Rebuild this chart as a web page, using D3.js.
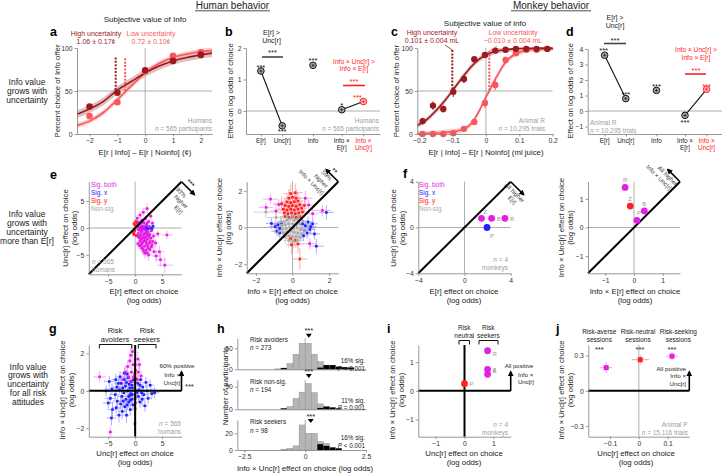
<!DOCTYPE html>
<html>
<head>
<meta charset="utf-8">
<script src="https://d3js.org/d3.v7.min.js"></script>
<style>
  body { margin: 0; background: #fff; }
  svg text { font-family: "Liberation Sans", Arial, sans-serif; }
</style>
</head>
<body>
<div id="fig"></div>
<script>
// ---------------- data ----------------

// a: humans, % choice of Info offer vs E[r|Info] - E[r|Noinfo] (cents)
var aX = [-2, -1, 0, 1, 2];
var aHigh = [32, 48, 74, 85, 92];
var aLow = [21, 37, 73, 91, 95];
var aFitX = [-2.45, -2, -1.5, -1, -0.5, 0, 0.5, 1, 1.5, 2, 2.4];
var aFitHigh = [23, 29, 38, 51, 61, 71, 79, 85, 89, 92, 94];
var aFitLow = [10, 15, 25, 40, 56, 71, 82, 89, 93, 96, 97];
var aIndiff = [-1.06, -0.72];

// b: humans, effect on log odds of choice
var bNames = ["E[r]", "Unc[r]", "Info", "Info ×|E[r]", "Info ×|Unc[r]"];
var bVals = [1.27, -0.47, 1.45, 0.04, 0.3];
var bStars = ["***", "***", "***", "*", "***"];

// c: monkey R, % choice of info vs juice difference (ml)
var cX = [-0.19, -0.159, -0.128, -0.098, -0.066, -0.035, -0.003, 0.028, 0.059, 0.09, 0.121, 0.152, 0.184];
var cHigh = [15, 33, 29, 49, 64, 87, 92, 97, 98, 99, 99, 99, 99];
var cHighErr = [4, 5, 4, 6, 5, 3, 3, 2, 1, 1, 1, 1, 1];
var cLow = [0, 0, 0, 1, 6, 14, 36, 57, 86, 94, 98, 98, 99];
var cLowErr = [0, 0, 0, 1, 2, 2, 6, 6, 4, 2, 1, 1, 1];
var cFitX = [-0.206, -0.18, -0.15, -0.125, -0.101, -0.08, -0.06, -0.04, -0.02, 0, 0.01, 0.02, 0.04, 0.06, 0.08, 0.1, 0.13, 0.16, 0.2];
var cFitHigh = [10, 16, 27, 38, 50, 61, 71, 80, 87, 92, 93.5, 95, 97, 98, 99, 99.4, 99.7, 99.9, 100];
var cFitLow = [0.3, 0.6, 1, 1.8, 2.8, 4, 7, 14, 27, 43, 50, 58, 72, 84, 91, 95, 98, 99, 99.7];
var cIndiff = [-0.101, 0.01];

// d: monkey R, effect on log odds of choice
var dVals = [3.6, 0.8, 1.33, -0.28, 1.4];
var dStars = ["***", "***", "***", "***", "***"];

// e (left): humans, [E[r] effect, Unc[r] effect, xerr, yerr]
var eBoth = [
  [0.4,1.8,0.2,0.6],[0.9,2.4,0.3,0.7],[1.5,2.9,0.4,0.8],[2.2,3.6,0.5,0.9],[2.9,2.2,0.5,0.7],
  [0.6,1.1,0.2,0.4],[1.2,1.4,0.3,0.5],[1.9,1.7,0.3,0.5],[2.5,1.2,0.4,0.5],[3.2,0.9,0.5,0.5],
  [0.5,0.5,0.2,0.3],[1.0,0.7,0.2,0.3],[1.6,0.9,0.3,0.4],[2.1,0.6,0.3,0.4],[0.8,-0.4,0.2,0.3],
  [1.3,-0.6,0.2,0.4],[1.8,-0.3,0.3,0.4],[2.4,-0.7,0.3,0.4],[3.0,-0.5,0.4,0.5],[0.6,-1.0,0.2,0.4],
  [1.1,-1.3,0.3,0.4],[1.6,-1.1,0.3,0.4],[2.1,-1.4,0.3,0.5],[2.7,-1.2,0.4,0.5],[3.4,-1.5,0.5,0.6],
  [0.7,-1.8,0.2,0.5],[1.2,-2.0,0.3,0.5],[1.7,-1.8,0.3,0.5],[2.3,-2.1,0.4,0.6],[2.9,-1.9,0.4,0.6],
  [0.9,-2.5,0.3,0.6],[1.4,-2.7,0.3,0.6],[2.0,-2.6,0.4,0.6],[2.6,-2.8,0.4,0.7],[3.3,-2.5,0.5,0.7],
  [1.1,-3.2,0.3,0.7],[1.7,-3.4,0.4,0.7],[2.3,-3.3,0.4,0.8],[3.0,-3.5,0.5,0.8],[1.4,-3.9,0.4,0.8],
  [2.0,-4.1,0.5,0.9],[2.7,-4.0,0.5,0.9],[3.5,-4.4,0.7,1.0],[1.8,-4.7,0.5,1.0],[2.5,-5.0,0.6,1.1],
  [3.9,-5.2,0.8,1.2],[4.5,-4.4,0.9,1.1],[4.7,-5.9,1.0,1.3],[5.5,-6.9,1.5,1.5],[5.9,-1.3,1.0,0.8],
  [4.2,-1.1,0.6,0.6],[3.8,-2.8,0.6,0.8],[0.5,-2.9,0.2,0.5],[1.0,-0.1,0.2,0.3],[2.6,0.2,0.3,0.4],
  [1.5,-1.6,0.3,0.4],[2.2,-0.9,0.3,0.4],[1.9,-2.3,0.3,0.5],[2.4,-3.7,0.5,0.8],[1.3,0.3,0.2,0.3],
  [0.7,0.2,0.2,0.3],[1.1,-0.8,0.2,0.4],[1.4,-0.3,0.2,0.3],[1.7,0.3,0.3,0.4],[2.0,-0.6,0.3,0.4],
  [0.9,-1.5,0.2,0.4],[1.3,-1.9,0.3,0.5],[1.6,-2.4,0.3,0.5],[2.0,-1.7,0.3,0.5],[2.4,-1.3,0.3,0.5],
  [0.8,-3.3,0.3,0.6],[1.2,-3.7,0.3,0.7],[1.6,-4.3,0.4,0.8],[2.1,-3.0,0.4,0.7],[2.8,-2.5,0.4,0.6],
  [1.0,-2.2,0.3,0.5],[0.6,-0.3,0.2,0.3],[1.9,-1.0,0.3,0.4],[1.2,-2.9,0.3,0.6],[2.2,-4.6,0.5,0.9],
  [3.1,-3.1,0.5,0.8],[2.6,-1.6,0.4,0.5],[0.5,-1.5,0.2,0.4],[1.5,1.1,0.3,0.4],[2.2,0.9,0.3,0.4]
];
var eX = [[0.9,0.1,0.2,0.3],[1.3,-0.1,0.2,0.3],[1.7,0.0,0.3,0.3],[2.1,0.1,0.3,0.3],[2.4,-0.1,0.3,0.4],
  [2.8,0.0,0.3,0.4],[3.1,-0.2,0.4,0.4],[1.5,0.2,0.2,0.3],[2.6,0.2,0.3,0.4],[1.1,-0.2,0.2,0.3],
  [3.3,0.3,0.4,0.4],[2.0,-0.3,0.3,0.3]];
var eY = [[-0.2,0.8,0.3,0.4],[0.1,1.2,0.3,0.4],[-0.3,-0.9,0.3,0.4],[0.2,-1.4,0.3,0.5],
  [0.0,0.5,0.2,0.3],[-0.1,-0.5,0.2,0.3],[0.3,1.0,0.3,0.4],[-0.25,-1.2,0.3,0.4]];
var eNs = [[0.1,0.1,0.3,0.3],[-0.1,-0.2,0.3,0.3],[0.2,-0.1,0.3,0.4]];

// e (right): humans, [Info x E[r] effect, Info x Unc[r] effect, xerr, yerr]
var e2Ns = [[-0.5,0.3,0.3,0.3],[-0.3,0.4,0.2,0.3],[-0.1,0.5,0.2,0.3],[0.1,0.4,0.2,0.3],[0.3,0.45,0.3,0.3],
  [-0.6,0.1,0.3,0.3],[-0.4,0.15,0.2,0.3],[-0.2,0.2,0.2,0.2],[0.0,0.2,0.2,0.2],[0.2,0.15,0.2,0.3],[0.4,0.2,0.3,0.3],
  [-0.55,-0.1,0.3,0.3],[-0.35,-0.05,0.2,0.3],[-0.15,0.0,0.2,0.2],[0.05,-0.05,0.2,0.2],[0.25,0.0,0.2,0.3],[0.45,-0.1,0.3,0.3],
  [-0.5,-0.3,0.3,0.3],[-0.3,-0.25,0.2,0.3],[-0.1,-0.2,0.2,0.3],[0.1,-0.25,0.2,0.3],[0.3,-0.3,0.3,0.3],[0.5,-0.35,0.3,0.3],
  [-0.4,-0.5,0.3,0.4],[-0.2,-0.45,0.2,0.3],[0.0,-0.5,0.2,0.3],[0.2,-0.5,0.3,0.4],[0.4,-0.55,0.3,0.4],
  [-0.2,-0.7,0.3,0.4],[0.05,-0.75,0.3,0.4],[0.25,-0.7,0.3,0.4],[-0.65,0.3,0.3,0.3],[0.55,0.35,0.3,0.3],
  [-0.75,-0.2,0.4,0.3],[0.65,-0.15,0.3,0.3],[-0.9,0.55,0.5,0.4],[-1.45,0.84,0.7,0.3],[0.0,0.65,0.3,0.3],
  [-0.3,0.6,0.3,0.3],[0.35,0.65,0.3,0.3]];
var e2Y = [[-0.4,0.6,0.3,0.3],[-0.2,0.55,0.2,0.3],[0.0,0.6,0.2,0.3],[0.2,0.55,0.2,0.3],[0.4,0.6,0.3,0.3],
  [-0.45,0.8,0.3,0.3],[-0.25,0.75,0.2,0.3],[-0.05,0.8,0.2,0.3],[0.15,0.75,0.2,0.3],[0.35,0.8,0.3,0.3],[0.55,0.85,0.3,0.4],
  [-0.5,1.0,0.3,0.4],[-0.3,0.95,0.3,0.3],[-0.1,1.0,0.2,0.3],[0.1,0.95,0.2,0.3],[0.3,1.0,0.3,0.4],[0.5,1.05,0.3,0.4],
  [-0.4,1.2,0.3,0.4],[-0.2,1.15,0.3,0.4],[0.0,1.2,0.3,0.4],[0.2,1.15,0.3,0.4],[0.4,1.25,0.3,0.4],
  [-0.3,1.4,0.3,0.4],[-0.1,1.35,0.3,0.4],[0.1,1.4,0.3,0.4],[0.3,1.45,0.3,0.5],
  [-0.2,1.6,0.3,0.5],[0.0,1.65,0.3,0.5],[0.2,1.6,0.3,0.5],[-0.1,1.85,0.4,0.5],[0.15,1.9,0.4,0.5],
  [-0.6,1.3,0.4,0.4],[0.65,1.2,0.4,0.4],
  [-0.1,-0.6,0.3,0.4],[0.15,-0.7,0.3,0.4],[0.3,-0.9,0.3,0.5],[-0.05,-0.95,0.3,0.5],[0.4,-1.72,0.4,0.6]];
var e2X = [[-1.15,0.22,0.3,0.3],[-0.95,0.05,0.3,0.3],[-0.8,0.15,0.3,0.2],[-0.7,-0.05,0.2,0.3],[-0.85,-0.2,0.3,0.3],
  [-0.6,0.25,0.2,0.3],[-0.7,-0.3,0.3,0.3],[0.55,0.2,0.3,0.3],[0.7,0.1,0.3,0.3],[0.85,0.3,0.3,0.3],[1.0,0.05,0.3,0.3],
  [0.65,-0.15,0.3,0.3],[0.8,-0.3,0.3,0.3],[0.95,-0.1,0.3,0.3],[1.1,0.2,0.3,0.3],[0.6,-0.45,0.3,0.3],[1.2,-0.35,0.3,0.3],
  [1.85,0.82,0.4,0.4],[1.3,-1.02,0.4,0.4]];
var e2Both = [[-1.44,1.1,0.4,0.3],[-1.2,1.55,0.4,0.3],[-0.9,0.9,0.3,0.3],[0.88,1.23,0.4,0.3],[1.63,0.93,0.5,0.3],
  [0.94,-0.88,0.4,0.3],[1.1,0.75,0.3,0.3],[-0.75,1.25,0.3,0.3],[0.7,1.6,0.4,0.4]];

// f, f (right), i: monkeys Z, B, R, P
var mNames = ["Z", "B", "R", "P"];
var mEr = [1.47, 2.35, 3.5, 1.95];
var mUnc = [0.8, 0.8, 0.8, 0.0];
var mInfoEr = [-0.13, 0.36, -0.31, 0.1];
var mInfoUnc = [0.75, 0.58, 1.4, 0.25];
var fSig = ["both", "both", "both", "x"];
var f2Sig = ["y", "both", "both", "both"];
var iSig = ["both", "both", "both", "y"];

// g: humans, [Unc[r] effect, Info x Unc[r] effect, xerr, yerr]
var gX = [[-4.8,0.5,1.0,0.3],[-4.3,0.1,0.9,0.3],[-4.6,-0.4,1.0,0.3],[-5.0,-0.65,1.0,0.3],[-4.2,-1.0,0.9,0.4],[-4.4,-1.45,0.9,0.4],
  [-3.6,0.6,0.8,0.3],[-3.4,0.2,0.8,0.3],[-3.7,-0.2,0.8,0.3],[-3.3,-0.55,0.8,0.3],[-3.5,-0.9,0.8,0.3],
  [-2.8,0.75,0.7,0.3],[-2.6,0.4,0.7,0.3],[-2.9,0.05,0.7,0.2],[-2.5,-0.3,0.7,0.3],[-2.7,-0.7,0.7,0.3],[-2.4,-1.1,0.7,0.4],
  [-2.0,0.6,0.6,0.3],[-1.8,0.25,0.6,0.2],[-2.1,-0.1,0.6,0.2],[-1.7,-0.45,0.6,0.3],[-1.9,-0.85,0.6,0.3],[-1.6,-1.3,0.6,0.4],
  [-1.3,0.7,0.5,0.3],[-1.1,0.35,0.5,0.2],[-1.4,0.0,0.5,0.2],[-1.0,-0.25,0.5,0.2],[-1.2,-0.6,0.5,0.3],[-0.9,-1.0,0.5,0.3],
  [-0.7,0.5,0.4,0.2],[-0.5,0.15,0.4,0.2],[-0.8,-0.15,0.4,0.2],[-0.6,-0.45,0.4,0.3],[-0.4,-0.75,0.4,0.3],
  [0.5,0.4,0.4,0.2],[0.7,0.05,0.4,0.2],[0.6,-0.3,0.4,0.3],[0.9,-0.6,0.5,0.3],[1.0,0.6,0.5,0.3],
  [1.4,0.2,0.5,0.2],[1.6,-0.2,0.6,0.3],[1.3,-0.45,0.5,0.3],[2.0,0.45,0.6,0.3],[2.2,0.0,0.7,0.3],[2.4,-0.4,0.7,0.3],
  [2.8,0.3,0.8,0.3],[3.1,-0.15,0.8,0.3],[3.6,-0.1,0.9,0.3],[1.8,-0.8,0.6,0.3],[-3.0,-1.3,0.7,0.4],[-5.4,0.0,1.1,0.3],[-1.5,0.9,0.5,0.3],
  [-1.6,0.45,0.5,0.2],[-2.3,0.15,0.6,0.2],[-1.2,-0.3,0.5,0.2],[-0.6,0.3,0.4,0.2],[-0.9,-0.5,0.4,0.3],
  [-2.2,-0.55,0.6,0.3],[-1.5,-0.75,0.5,0.3],[-0.5,-0.2,0.4,0.2],[0.3,-0.1,0.3,0.2],[0.9,0.3,0.4,0.2],
  [-3.1,0.4,0.8,0.3],[-2.0,0.95,0.6,0.3],[-0.3,0.6,0.3,0.2],[1.2,-0.1,0.5,0.2],[-1.0,0.15,0.5,0.2]];
var gBoth = [[-6.6,0.75,1.2,0.3],[-1.8,1.0,0.5,0.3],[-1.4,1.3,0.5,0.3],[-1.0,1.6,0.5,0.4],[-0.8,1.9,0.4,0.4],[-0.5,2.1,0.4,0.4],
  [-1.2,0.75,0.4,0.3],[-0.7,1.0,0.4,0.3],[-0.4,1.4,0.4,0.3],[-0.9,0.5,0.4,0.2],[0.4,0.6,0.3,0.3],[0.6,1.0,0.4,0.3],
  [0.8,1.4,0.4,0.3],[0.5,1.7,0.4,0.4],[1.1,0.8,0.5,0.3],[-0.3,0.75,0.3,0.3],[-2.3,0.6,0.6,0.3],[-4.6,-2.2,0.5,0.3]];
var gY = [[0,1.4,0.15,0.3],[0.05,1.1,0.15,0.3],[-0.05,0.9,0.15,0.3],[0.1,0.65,0.15,0.2],[0,0.45,0.1,0.2],
  [-0.05,-0.4,0.1,0.3],[0.05,-0.65,0.15,0.3],[0,-0.95,0.15,0.4],[-0.05,-1.75,0.15,0.4]];
var gNs = [[0.0,0.1,0.2,0.3],[0.1,-0.2,0.2,0.3],[-0.1,0.3,0.2,0.3],[0.05,-0.4,0.2,0.3]];

// h: histograms of Info x Unc[r] effect, bins of 0.25 starting at -1.25
var hBins = [-1.25, -1, -0.75, -0.5, -0.25, 0, 0.25, 0.5, 0.75, 1, 1.25, 1.5, 1.75];
var hAvoidAll = [1, 3, 14, 36, 62, 62, 36, 18, 10, 10, 6, 5, 4];
var hAvoidSig = [0, 3, 0, 0, 0, 0, 0, 4, 10, 10, 6, 5, 4];
var hNeutAll = [0, 2, 6, 24, 38, 57, 37, 12, 6, 4, 2, 0, 0];
var hNeutSig = [0, 2, 0, 0, 0, 0, 0, 3, 6, 4, 2, 0, 0];
var hSeekAll = [0, 1, 2, 5, 30, 20, 20, 10, 8, 3, 2, 0, 0];
var hSeekSig = [0, 0, 0, 0, 0, 0, 0, 7, 5, 3, 2, 0, 0];
var hMeans = [0.15, 0.15, 0.23];

// j: monkey P sessions
var jNames = ["Risk-averse|sessions", "Risk-neutral|sessions", "Risk-seeking|sessions"];
var jUnc = [-0.113, 0.005, 0.115];
var jInfoUnc = [0.197, 0.265, 0.295];
var jUncErr = [0.02, 0.03, 0.022];
var jInfoUncErr = [0.045, 0.04, 0.035];
var jSig = ["both", "y", "both"];

// ---------------- drawing ----------------
var RED = "#ff2020", DRED = "#9c1a1e", LRED = "#f8585c", MAG = "#e41ee4", BLUE = "#2020ff",
    NSG = "#a8a8a8", AX = "#7d7d7d", REF = "#9a9a9a";
var sigCol = { both: MAG, x: BLUE, y: RED, ns: NSG };
var sigErr = { both: "#f19af1", x: "#9a9aff", y: "#ff9a9a", ns: "#c8c8c8" };

var svg = d3.select("#fig").append("svg").attr("width", 722).attr("height", 473);
var defs = svg.append("defs");
defs.append("marker").attr("id", "ah").attr("viewBox", "0 0 10 10").attr("refX", 7).attr("refY", 5)
  .attr("markerWidth", 3.6).attr("markerHeight", 3.6).attr("orient", "auto")
  .append("path").attr("d", "M0,0L10,5L0,10z").attr("fill", "#000");

function txt(x, y, s, o) {
  o = o || {};
  var t = svg.append("text").attr("x", x).attr("y", y)
    .attr("font-size", o.size || 7).attr("fill", o.fill || "#222")
    .attr("text-anchor", o.anchor || "middle");
  if (o.bold) t.attr("font-weight", "bold");
  if (o.rot) t.attr("transform", "rotate(" + o.rot + "," + x + "," + y + ")");
  var m = /^([nP])( [=<] .*)$/.exec(s);
  if (m) {
    t.append("tspan").attr("font-style", "italic").text(m[1]);
    t.append("tspan").text(m[2]);
  } else t.text(s);
  return t;
}
function lines(x, y, arr, lh, o) {
  arr.forEach(function (s, i) { txt(x, y + i * lh, s, o); });
}
function seg(x1, y1, x2, y2, col, w, dash) {
  var l = svg.append("line").attr("x1", x1).attr("y1", y1).attr("x2", x2).attr("y2", y2)
    .attr("stroke", col || REF).attr("stroke-width", w || 0.8);
  if (dash) l.attr("stroke-dasharray", dash);
  return l;
}
var fmtG = function (d) { return d3.format("~g")(d); };
function styleAxis(a) {
  a.attr("font-family", null).attr("font-size", null);
  a.select(".domain").attr("stroke", AX).attr("stroke-width", 0.8);
  a.selectAll(".tick line").attr("stroke", AX).attr("stroke-width", 0.8);
  a.selectAll(".tick text").attr("font-size", 6.8).attr("fill", "#333");
  return a;
}
function axL(scale, x, ticks) {
  var ax = d3.axisLeft(scale).tickValues(ticks).tickSize(2.5).tickSizeOuter(0).tickPadding(2).tickFormat(fmtG);
  return styleAxis(svg.append("g").attr("transform", "translate(" + x + ",0)").call(ax));
}
function axB(scale, y, ticks, fmt) {
  var ax = d3.axisBottom(scale).tickValues(ticks).tickSize(2.5).tickSizeOuter(0).tickPadding(2).tickFormat(fmt || fmtG);
  return styleAxis(svg.append("g").attr("transform", "translate(0," + y + ")").call(ax));
}
function zip(a, b) { return a.map(function (v, i) { return [v, b[i]]; }); }

function errScatter(xs, ys, sets, r) {
  var g = svg.append("g");
  sets.forEach(function (s) {
    s[0].forEach(function (p) {
      g.append("line").attr("x1", xs(p[0] - p[2])).attr("x2", xs(p[0] + p[2]))
        .attr("y1", ys(p[1])).attr("y2", ys(p[1])).attr("stroke", sigErr[s[1]]).attr("stroke-width", 0.8);
      g.append("line").attr("x1", xs(p[0])).attr("x2", xs(p[0]))
        .attr("y1", ys(p[1] - p[3])).attr("y2", ys(p[1] + p[3])).attr("stroke", sigErr[s[1]]).attr("stroke-width", 0.8);
    });
  });
  sets.forEach(function (s) {
    g.selectAll(null).data(s[0]).enter().append("rect")
      .attr("x", function (p) { return xs(p[0]) - r; }).attr("y", function (p) { return ys(p[1]) - r; })
      .attr("width", 2 * r).attr("height", 2 * r).attr("fill", sigCol[s[1]]);
  });
}
function legend(x, y) {
  [["Sig. both", "both"], ["Sig. x", "x"], ["Sig. y", "y"], ["Non-sig.", "ns"]].forEach(function (d, i) {
    txt(x, y + i * 8, d[0], { anchor: "start", size: 6.5, fill: sigCol[d[1]] });
  });
}
function yTitle(x, yc, arr) {
  arr.forEach(function (s, i) { txt(x + i * 9, yc, s, { rot: -90, size: 7.8 }); });
}
function xTitle(xc, y, arr) {
  arr.forEach(function (s, i) { txt(xc, y + i * 9, s, { size: 7.8 }); });
}
// arrow + rotated note at the top-right corner of a diagonal (frame rotated 45 deg)
function cornerNote(cx, cy, dir, len, stars, starAt, textLines, at) {
  var g = svg.append("g").attr("transform", "translate(" + cx + "," + cy + ") rotate(45)");
  g.append("line").attr("x1", 0).attr("y1", 0).attr("x2", dir * len).attr("y2", 0)
    .attr("stroke", "#000").attr("stroke-width", 1.6).attr("marker-end", "url(#ah)");
  if (stars) g.append("text").attr("x", starAt[0]).attr("y", starAt[1]).attr("font-size", 7.5)
    .attr("text-anchor", "middle").text(stars);
  textLines.forEach(function (s, i) {
    g.append("text").attr("x", at[i][0]).attr("y", at[i][1]).attr("font-size", 6)
      .attr("fill", "#333").attr("text-anchor", "middle").text(s);
  });
}

// headers, row labels, panel letters
txt(232.5, 8.5, "Human behavior", { size: 10 });
seg(195, 10.8, 270, 10.8, "#222", 0.8);
txt(551, 8.5, "Monkey behavior", { size: 10 });
seg(511, 10.8, 591, 10.8, "#222", 0.8);
lines(27, 85, ["Info value", "grows with", "uncertainty"], 9, { size: 8.5 });
lines(27, 217, ["Info value", "grows with", "uncertainty", "more than E[r]"], 9, { size: 8.5 });
lines(28, 369.5, ["Info value", "grows with", "uncertainty", "for all risk", "attitudes"], 8.8, { size: 8.5 });
[["a", 50, 36], ["b", 225, 36], ["c", 391, 36], ["d", 566, 35.5], ["e", 50, 178.5], ["f", 403, 178],
 ["g", 49, 333], ["h", 217, 333], ["i", 387, 333], ["j", 556, 333]].forEach(function (d) {
  txt(d[1], d[2], d[0], { size: 12.5, bold: true, anchor: "start", fill: "#000" });
});

// ---- panel a ----
(function () {
  var xs = d3.scaleLinear([-2.45, 2.4], [77, 212]), ys = d3.scaleLinear([0, 100], [134, 48]);
  txt(145, 22, "Subjective value of Info", { size: 8 });
  seg(xs(0), ys(100), xs(0), ys(0)); seg(xs.range()[0], ys(50), xs.range()[1], ys(50));
  var band = function (w) {
    return d3.area().x(function (d) { return xs(d[0]); }).y0(function (d) { return ys(d[1] - w); })
      .y1(function (d) { return ys(Math.min(100, d[1] + w)); }).curve(d3.curveMonotoneX);
  };
  var ln = d3.line().x(function (d) { return xs(d[0]); }).y(function (d) { return ys(d[1]); }).curve(d3.curveMonotoneX);
  svg.append("path").attr("d", band(4.5)(zip(aFitX, aFitHigh))).attr("fill", "#d6a3a4").attr("opacity", 0.7);
  svg.append("path").attr("d", band(3)(zip(aFitX, aFitLow))).attr("fill", "#fbb3b4").attr("opacity", 0.7);
  svg.append("path").attr("d", ln(zip(aFitX, aFitLow))).attr("fill", "none").attr("stroke", LRED).attr("stroke-width", 1.6);
  svg.append("path").attr("d", ln(zip(aFitX, aFitHigh))).attr("fill", "none").attr("stroke", DRED).attr("stroke-width", 1.6);
  svg.selectAll(null).data(zip(aX, aLow)).enter().append("circle")
    .attr("cx", function (d) { return xs(d[0]); }).attr("cy", function (d) { return ys(d[1]); }).attr("r", 3.3).attr("fill", LRED);
  svg.selectAll(null).data(zip(aX, aHigh)).enter().append("circle")
    .attr("cx", function (d) { return xs(d[0]); }).attr("cy", function (d) { return ys(d[1]); }).attr("r", 3.3).attr("fill", DRED);
  seg(xs(aIndiff[0]), ys(89), xs(aIndiff[0]), ys(50), DRED, 2, "2,1.4");
  seg(xs(aIndiff[1]), ys(88), xs(aIndiff[1]), ys(50), LRED, 2, "2,1.4");
  lines(96, 36, ["High uncertainty", "1.06 ± 0.17¢"], 8, { fill: DRED });
  lines(151, 36, ["Low uncertainty", "0.72 ± 0.10¢"], 8, { fill: LRED });
  axL(ys, 77, [0, 50, 100]);
  axB(xs, 134, [-2, -1, 0, 1, 2]);
  lines(212, 122.5, ["Humans", "n = 565 participants"], 8, { anchor: "end", size: 6.5, fill: "#a0a0a0" });
  yTitle(59.5, 91, ["Percent choice of Info offer"]);
  xTitle(145, 155, ["E[r | Info] – E[r | Noinfo] (¢)"]);
})();

// ---- panels b and d ----
var catPos = [0, 1, 2.45, 3.8, 4.82];
function effectPanel(xs, ys, vals, stars, starDy, starDx, yTicks, x0, x1) {
  seg(x0, ys(0), x1, ys(0));
  seg(xs(catPos[0]), ys(vals[0]), xs(catPos[1]), ys(vals[1]), "#111", 1.1);
  seg(xs(catPos[3]), ys(vals[3]), xs(catPos[4]), ys(vals[4]), "#111", 1.1);
  vals.forEach(function (v, i) {
    var red = i === 4;
    svg.append("circle").attr("cx", xs(catPos[i])).attr("cy", ys(v)).attr("r", 3.3)
      .attr("fill", red ? "#ffb0b0" : "#a9a9a9").attr("stroke", red ? RED : "#111").attr("stroke-width", 1);
    seg(xs(catPos[i]) - 1.6, ys(v), xs(catPos[i]) + 1.6, ys(v), red ? RED : "#111", 0.7);
    seg(xs(catPos[i]), ys(v) - 1.6, xs(catPos[i]), ys(v) + 1.6, red ? RED : "#111", 0.7);
    txt(xs(catPos[i]) + starDx[i], ys(v) + starDy[i], stars[i], { size: 7.5, fill: red ? RED : "#111" });
  });
  axL(ys, x0, yTicks);
  axB(xs, 134, catPos, function () { return ""; });
  bNames.forEach(function (s, i) {
    lines(xs(catPos[i]), 143, s.split("|"), 7.3, { size: 6.4, fill: i === 4 ? RED : "#222" });
  });
}
(function () {
  var xs = d3.scaleLinear([-0.7, 5.6], [246, 380]), ys = d3.scaleLinear([-0.73, 2], [134, 48]);
  effectPanel(xs, ys, bVals, bStars, [-1, 8, -2, -1.5, -2], [0, 0, 0, 0, -6], [0, 1, 2], 246, 380);
  lines(271.5, 35, ["E[r] >", "Unc[r]"], 7.5);
  seg(262, 57, 283, 57, "#444", 1.6);
  txt(272.5, 55, "***", { size: 7.5 });
  lines(354, 64, ["Info × Unc[r] >", "Info × E[r]"], 7.3, { fill: RED, size: 6.6 });
  seg(343, 85.5, 365, 85.5, RED, 1.6);
  txt(354, 84, "***", { size: 7.5, fill: RED });
  lines(379, 122.5, ["Humans", "n = 565 participants"], 8, { anchor: "end", size: 6.5, fill: "#a0a0a0" });
  yTitle(232.5, 91, ["Effect on log odds of choice"]);
})();
(function () {
  var xs = d3.scaleLinear([-0.8, 5.55], [587.7, 722]), ys = d3.scaleLinear([-1.45, 4], [133.5, 49]);
  effectPanel(xs, ys, dVals, dStars, [-2.5, -1.5, -1.5, 9.5, -0.5], [-1, 0, 0, 0, 0], [-1, 0, 1, 2, 3, 4], 587.7, 722);
  lines(615, 20, ["E[r] >", "Unc[r]"], 8);
  seg(604, 43.5, 626, 43.5, "#444", 1.6);
  txt(615, 42.5, "***", { size: 7.5 });
  lines(696, 52, ["Info × Unc[r] >", "Info × E[r]"], 7.5, { fill: RED, size: 6.6 });
  seg(685, 74, 706, 74, RED, 1.6);
  txt(696, 73, "***", { size: 7.5, fill: RED });
  lines(590, 125, ["Animal R", "n = 10,295 trials"], 7.8, { anchor: "start", size: 6.5, fill: "#a0a0a0" });
  yTitle(573, 91, ["Effect on log odds of choice"]);
})();

// ---- panel c ----
(function () {
  var xs = d3.scaleLinear([-0.206, 0.2], [417.3, 552.6]), ys = d3.scaleLinear([0, 100], [134, 48]);
  txt(485, 25.5, "Subjective value of info", { size: 8 });
  seg(xs(0), ys(100), xs(0), ys(0)); seg(xs.range()[0], ys(50), xs.range()[1], ys(50));
  var ln = d3.line().x(function (d) { return xs(d[0]); }).y(function (d) { return ys(d[1]); }).curve(d3.curveMonotoneX);
  var band = d3.area().x(function (d) { return xs(d[0]); }).y0(function (d) { return ys(Math.max(0, d[1] - 3)); })
    .y1(function (d) { return ys(Math.min(100, d[1] + 3)); }).curve(d3.curveMonotoneX);
  svg.append("path").attr("d", band(zip(cFitX, cFitLow))).attr("fill", "#fbb3b4").attr("opacity", 0.7);
  svg.append("path").attr("d", band(zip(cFitX, cFitHigh))).attr("fill", "#d6a3a4").attr("opacity", 0.7);
  svg.append("path").attr("d", ln(zip(cFitX, cFitLow))).attr("fill", "none").attr("stroke", LRED).attr("stroke-width", 1.6);
  svg.append("path").attr("d", ln(zip(cFitX, cFitHigh))).attr("fill", "none").attr("stroke", DRED).attr("stroke-width", 1.6);
  [[cLow, cLowErr, LRED], [cHigh, cHighErr, DRED]].forEach(function (s) {
    cX.forEach(function (x, i) {
      seg(xs(x), ys(s[0][i] - s[1][i]), xs(x), ys(Math.min(100, s[0][i] + s[1][i])), s[2], 1);
      svg.append("circle").attr("cx", xs(x)).attr("cy", ys(s[0][i])).attr("r", 3.2).attr("fill", s[2]);
    });
  });
  seg(xs(cX[12]) - 6, ys(cHigh[12]), xs(cX[12]) + 6, ys(cHigh[12]), DRED, 1);
  seg(xs(cIndiff[0]), 50, xs(cIndiff[0]), ys(50), DRED, 2, "2,1.4");
  seg(xs(cIndiff[1]), 51, xs(cIndiff[1]), ys(50), LRED, 2, "2,1.4");
  seg(445, 45, xs(cIndiff[0]), 50, DRED, 0.8);
  seg(497, 46, xs(cIndiff[1]), 51, LRED, 0.8);
  lines(432, 35, ["High uncertainty", "0.101 ± 0.004 mL"], 7.5, { fill: DRED });
  lines(513, 35, ["Low uncertainty", "−0.010 ± 0.004 mL"], 7.5, { fill: LRED });
  axL(ys, 417.3, [0, 50, 100]);
  axB(xs, 134, [-0.2, -0.1, 0, 0.1, 0.2]);
  lines(545, 122.5, ["Animal R", "n = 10,295 trials"], 8, { anchor: "end", size: 6.5, fill: "#a0a0a0" });
  yTitle(398.5, 91, ["Percent choice of info offer"]);
  xTitle(486, 155, ["E[r | Info] – E[r | Noinfo] (ml juice)"]);
})();

// ---- row 2 scatter panels ----
function zeroLines(xs, ys) {
  seg(xs(0), ys.range()[0], xs(0), ys.range()[1]);
  seg(xs.range()[0], ys(0), xs.range()[1], ys(0));
}
function diag(xs, ys) {
  var lo = Math.max(xs.domain()[0], ys.domain()[0]), hi = Math.min(xs.domain()[1], ys.domain()[1]);
  seg(xs(lo), ys(lo), xs(hi), ys(hi), "#000", 2);
}
(function () {
  var xs = d3.scaleLinear([-8.6, 8.6], [88.8, 181.5]), ys = d3.scaleLinear([-8.6, 8.6], [274.3, 181.7]);
  zeroLines(xs, ys);
  errScatter(xs, ys, [[eNs, "ns"], [eY, "y"], [eX, "x"], [eBoth, "both"]], 1.3);
  diag(xs, ys);
  axL(ys, 88.8, [-5, 0, 5]); axB(xs, 274.3, [-5, 0, 5]);
  legend(91, 186.5);
  lines(92, 263.5, ["n = 565", "humans"], 8, { anchor: "start", size: 6.5, fill: "#a0a0a0" });
  cornerNote(181.5, 181.7, 1, 18, "***", [7.5, -2.5], ["93%", "higher", "E[r]"], [[7.4, 10], [13.8, 16.5], [17.7, 24]]);
  yTitle(67.5, 228, ["Unc[r] effect on choice", "(log odds)"]);
  xTitle(144, 294, ["E[r] effect on choice", "(log odds)"]);
})();
(function () {
  var xs = d3.scaleLinear([-2.5, 2.5], [246.7, 338.3]), ys = d3.scaleLinear([-2.5, 2.5], [273.3, 181.7]);
  zeroLines(xs, ys);
  errScatter(xs, ys, [[e2Y, "y"], [e2X, "x"], [e2Both, "both"], [e2Ns, "ns"]], 1.3);
  diag(xs, ys);
  axL(ys, 246.7, [-2, 0, 2]); axB(xs, 273.3, [-2, 0, 2]);
  cornerNote(338.3, 181.7, -1, 17, "**", [-10.6, -2], ["59%", "higher", "Info × Unc[r]"], [[-12.6, 5.8], [-12.7, 13.7], [-18.7, 21.5]]);
  yTitle(222, 227.5, ["Info × Unc[r] effect on choice", "(log odds)"]);
  xTitle(292.5, 294, ["Info × E[r] effect on choice", "(log odds)"]);
})();
function monkeyPts(xs, ys, xv, yv, sig, dx, dy) {
  mNames.forEach(function (n, i) {
    svg.append("circle").attr("cx", xs(xv[i])).attr("cy", ys(yv[i])).attr("r", 3.4).attr("fill", sigCol[sig[i]]);
    txt(xs(xv[i]) + dx[i], ys(yv[i]) + dy[i], n, { size: 6, fill: "#9a9a9a", anchor: "start" });
  });
}
(function () {
  var xs = d3.scaleLinear([-4, 4], [418.3, 510.7]), ys = d3.scaleLinear([-4, 4], [273.3, 181.7]);
  zeroLines(xs, ys);
  diag(xs, ys);
  monkeyPts(xs, ys, mEr, mUnc, fSig, [2, 5, 5, 3], [-4.5, 2.3, 2.3, 10]);
  axL(ys, 418.3, [-4, 0, 4]); axB(xs, 273.3, [-4, 0, 4]);
  legend(419, 186.5);
  lines(508, 261.5, ["n = 4", "monkeys"], 8, { anchor: "end", size: 6.5, fill: "#a0a0a0" });
  cornerNote(510.7, 181.7, 1, 18, "", [0, 0], ["All higher", "E[r]"], [[10.5, 7], [14, 14]]);
  yTitle(395.5, 228, ["Unc[r] effect on choice", "(log odds)"]);
  xTitle(464, 294, ["E[r] effect on choice", "(log odds)"]);
})();
(function () {
  var xs = d3.scaleLinear([-1.6, 1.6], [588, 680]), ys = d3.scaleLinear([-1.6, 1.6], [273.3, 181.7]);
  zeroLines(xs, ys);
  diag(xs, ys);
  monkeyPts(xs, ys, mInfoEr, mInfoUnc, f2Sig, [-2, -2, -2, 0], [-5, -5, -5, -5]);
  axL(ys, 588, [-1, 0, 1]); axB(xs, 273.3, [-1, 0, 1]);
  cornerNote(680, 181.7, -1, 17, "", [0, 0], ["All higher", "Info × Unc[r]"], [[-13, 6.5], [-18, 14]]);
  yTitle(564, 227.5, ["Info × Unc[r] effect on choice", "(log odds)"]);
  xTitle(635, 294, ["Info × E[r] effect on choice", "(log odds)"]);
})();

// ---- row 3 ----
function bracket(x1, x2, y) {
  svg.append("path").attr("d", "M" + x1 + "," + (y + 4) + "V" + y + "H" + x2 + "V" + (y + 4))
    .attr("fill", "none").attr("stroke", "#111").attr("stroke-width", 1);
}
function upArrow(xs, ys, x1, x2, yTip) {
  seg(x1, ys(0), x2, ys(0), "#000", 2);
  svg.append("line").attr("x1", x2).attr("y1", ys(0)).attr("x2", x2).attr("y2", yTip)
    .attr("stroke", "#000").attr("stroke-width", 1.6).attr("marker-end", "url(#ah)");
}
(function () {
  var xs = d3.scaleLinear([-8.6, 8.6], [88.8, 181.5]), ys = d3.scaleLinear([-2.45, 2.45], [436.7, 345]);
  errScatter(xs, ys, [[gX, "x"], [gBoth, "both"], [gNs, "ns"], [gY, "y"]], 1.3);
  seg(xs(0), 345, xs(0), 436.7, "#000", 2);
  upArrow(xs, ys, 88.8, 181.5, 372);
  axL(ys, 88.8, [-2, 0, 2]); axB(xs, 436.7, [-5, 0, 5]);
  bracket(99.3, 131.7, 344.5); bracket(138.3, 156, 344.5);
  lines(115, 332.5, ["Risk", "avoiders"], 9, { size: 7.5 });
  lines(147, 332.5, ["Risk", "seekers"], 9, { size: 7.5 });
  txt(177, 368, "60% positive", { size: 6.2 });
  lines(180, 376.5, ["Info ×", "Unc[r]"], 8, { size: 6.2, anchor: "end" });
  txt(185, 388.5, "***", { size: 7.5, anchor: "start" });
  lines(181, 425.5, ["n = 565", "humans"], 8, { anchor: "end", size: 6.5, fill: "#a0a0a0" });
  yTitle(65, 390, ["Info × Unc[r] effect on choice", "(log odds)"]);
  xTitle(135, 455.5, ["Unc[r] effect on choice", "(log odds)"]);
})();
(function () {
  var xs = d3.scaleLinear([-2.79, 2.5], [237.3, 366]);
  var subs = [
    { all: hAvoidAll, sig: hAvoidSig, y0: 369.3, k: 0.42, top: 74, ticks: [0, 50],
      t1: ["Risk avoiders", "n = 273"], t2: ["16% sig.", "P < 0.001"], ty1: 341.5, ty2: 363 },
    { all: hNeutAll, sig: hNeutSig, y0: 409.3, k: 0.452, top: 65, ticks: [0, 50],
      t1: ["Risk non-sig.", "n = 194"], t2: ["11% sig.", "P = 0.001"], ty1: 383.5, ty2: 402.5 },
    { all: hSeekAll, sig: hSeekSig, y0: 450, k: 0.835, top: 36, ticks: [0, 20],
      t1: ["Risk seekers", "n = 98"], t2: ["16% sig.", "P < 0.001"], ty1: 424, ty2: 440 }
  ];
  subs.forEach(function (s, si) {
    var ys = d3.scaleLinear([0, s.top], [s.y0, s.y0 - s.k * s.top]);
    seg(xs(0), ys(0), xs(0), ys(s.top), REF, 0.8);
    hBins.forEach(function (b, i) {
      if (s.all[i] > 0) svg.append("rect").attr("x", xs(b)).attr("y", ys(s.all[i]))
        .attr("width", xs(b + 0.25) - xs(b)).attr("height", ys(0) - ys(s.all[i]))
        .attr("fill", "#b5b5b5").attr("stroke", "#8a8a8a").attr("stroke-width", 0.4);
      if (s.sig[i] > 0) svg.append("rect").attr("x", xs(b)).attr("y", ys(s.sig[i]))
        .attr("width", xs(b + 0.25) - xs(b)).attr("height", ys(0) - ys(s.sig[i])).attr("fill", "#000");
    });
    var peak = d3.max(s.all), m = xs(hMeans[si]);
    var ty = si === 2 ? ys(0) - 27 : ys(peak) - 5.5;
    svg.append("path").attr("d", "M" + (m - 3) + "," + (ty - 4) + "H" + (m + 3) + "L" + m + "," + ty + "Z").attr("fill", "#000");
    txt(m, ty - 4.5, "***", { size: 7.5 });
    axL(ys, 237.3, s.ticks);
    if (si < 2) axB(xs, s.y0, []);
    else axB(xs, s.y0, [-2.5, 0, 2.5]);
    lines(250, s.ty1, s.t1, 8.5, { anchor: "start", size: 6.3 });
    lines(365, s.ty2, s.t2, 7.8, { anchor: "end", size: 6.3 });
  });
  txt(228, 386, "Number of participants", { rot: -90, size: 7.8 });
  txt(305, 470.5, "Info × Unc[r] effect on choice (log odds)", { size: 7.8 });
})();
(function () {
  var xs = d3.scaleLinear([-1.6, 1.6], [418.3, 510.7]), ys = d3.scaleLinear([-1.6, 1.6], [436.7, 345]);
  seg(xs(0), 345, xs(0), 436.7, "#000", 2);
  upArrow(xs, ys, 418.3, 510.7, 372);
  monkeyPts(xs, ys, mUnc, mInfoUnc, iSig, [5, 5, 5, 5], [2.3, -1, 5.5, 2.3]);
  axL(ys, 418.3, [-1, 0, 1]); axB(xs, 436.7, [-1, 0, 1]);
  bracket(459, 469.5, 340.5); bracket(479, 498, 340.5);
  lines(464.3, 330, ["Risk", "neutral"], 7.5, { size: 6.5 });
  lines(488.3, 330, ["Risk", "seekers"], 7.5, { size: 6.5 });
  txt(519, 367.5, "All positive", { size: 6 });
  lines(518, 376.5, ["Info ×", "Unc[r]"], 7, { size: 6, anchor: "start" });
  lines(508, 426.5, ["n = 4", "monkeys"], 8, { anchor: "end", size: 6.5, fill: "#a0a0a0" });
  yTitle(395, 390, ["Info × Unc[r] effect on choice", "(log odds)"]);
  xTitle(464, 455.5, ["Unc[r] effect on choice", "(log odds)"]);
})();
(function () {
  var xs = d3.scaleLinear([-0.175, 0.175], [588.3, 689.3]), ys = d3.scaleLinear([-0.39, 0.39], [436.7, 345]);
  seg(xs(0), 345, xs(0), 436.7);
  upArrow(xs, ys, 588.3, 689.3, 372);
  jUnc.forEach(function (x, i) {
    var s = jSig[i];
    seg(xs(x - jUncErr[i]), ys(jInfoUnc[i]), xs(x + jUncErr[i]), ys(jInfoUnc[i]), sigErr[s], 1);
    seg(xs(x), ys(jInfoUnc[i] - jInfoUncErr[i]), xs(x), ys(jInfoUnc[i] + jInfoUncErr[i]), sigErr[s], 1);
    svg.append("rect").attr("x", xs(x) - 2.5).attr("y", ys(jInfoUnc[i]) - 2.5).attr("width", 5).attr("height", 5).attr("fill", sigCol[s]);
  });
  [599.3, 638, 678.3].forEach(function (x, i) {
    lines(x, 333.5, jNames[i].split("|"), 8.5, { size: 6.5 });
  });
  [599.3, 640, 672].forEach(function (x) { txt(x, 351.5, "***", { size: 7.5 }); });
  txt(686, 370.5, "All positive", { size: 6.2, anchor: "end" });
  lines(686, 378, ["Info ×", "Unc[r]"], 7.8, { size: 6.2, anchor: "end" });
  axL(ys, 588.3, [-0.3, 0, 0.3]); axB(xs, 436.7, [-0.1, 0, 0.1]);
  lines(687.7, 426.5, ["Animal P", "n = 15,116 trials"], 8, { anchor: "end", size: 6.5, fill: "#a0a0a0" });
  yTitle(564, 390, ["Info × Unc[r] effect on choice", "(log odds)"]);
  xTitle(636, 455.5, ["Unc[r] effect on choice", "(log odds)"]);
})();
</script>
</body>
</html>
